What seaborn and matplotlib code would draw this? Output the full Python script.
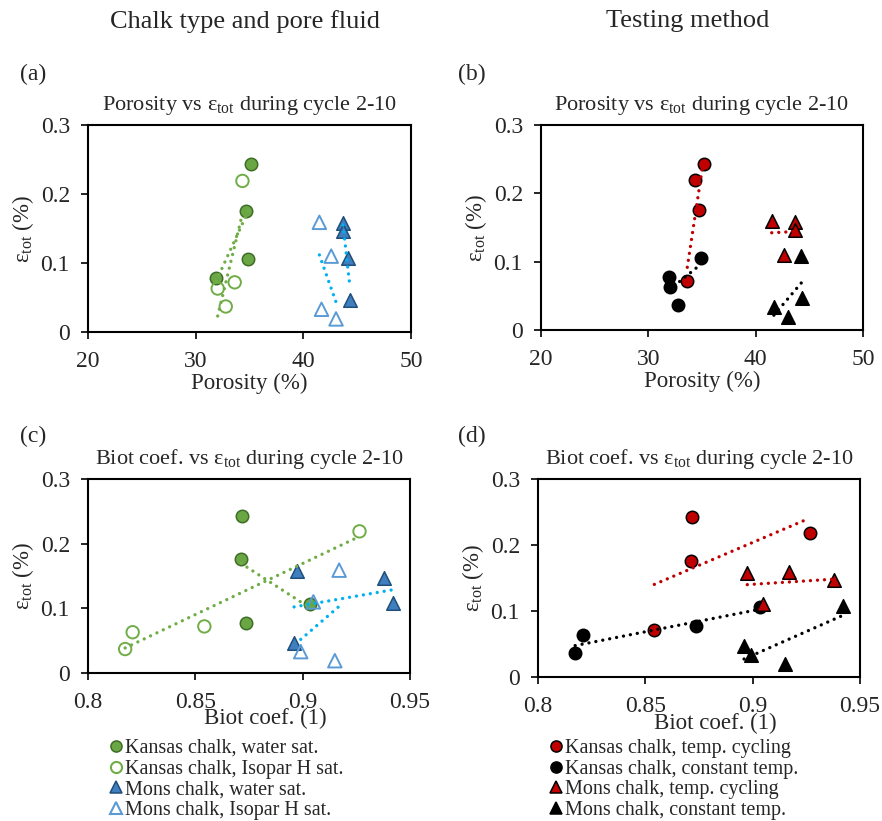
import numpy as np
import pandas as pd
import matplotlib.pyplot as plt
import seaborn as sns
from matplotlib.lines import Line2D
from matplotlib.ticker import FuncFormatter

# Sample data (one entry per test sample)
chalk = ['Kansas'] * 8 + ['Mons'] * 8
porosity = [35.15, 34.35, 34.7, 33.63, 31.9, 32.05, 32.8, 34.9,
            43.7, 41.5, 43.7, 42.6, 44.2, 44.35, 41.7, 43.05]
biot = [0.8717, 0.9265, 0.8713, 0.8542, 0.8737, 0.8208, 0.8173, 0.9035,
        0.8975, 0.917, 0.9378, 0.905, 0.942, 0.896, 0.8991, 0.915]
eps_tot = [0.243, 0.219, 0.176, 0.072, 0.078, 0.063, 0.037, 0.106,
           0.158, 0.159, 0.147, 0.110, 0.108, 0.047, 0.033, 0.019]
fluid = ['water', 'Isopar', 'water', 'Isopar', 'water', 'Isopar', 'Isopar', 'water',
         'water', 'Isopar', 'water', 'Isopar', 'water', 'water', 'Isopar', 'Isopar']
testing = ['cycling'] * 4 + ['constant'] * 4 + ['cycling'] * 4 + ['constant'] * 4

df = pd.DataFrame({'chalk': chalk, 'porosity': porosity, 'biot': biot,
                   'eps': eps_tot, 'fluid': fluid, 'testing': testing})

sns.set_style('ticks')
plt.rcParams['font.family'] = ['Liberation Serif', 'DejaVu Serif']
plt.rcParams['mathtext.fontset'] = 'custom'
plt.rcParams['mathtext.rm'] = 'Liberation Serif'
plt.rcParams['mathtext.it'] = 'Liberation Serif:italic'

# (group key column, chalk, value, label, marker, face, edge, trend colour)
left_series = [
    ('fluid', 'Kansas', 'water', 'Kansas chalk, water sat.', 'o', '#6AA744', '#3E6E26', '#70AD47'),
    ('fluid', 'Kansas', 'Isopar', 'Kansas chalk, Isopar H sat.', 'o', 'none', '#70AD47', '#70AD47'),
    ('fluid', 'Mons', 'water', 'Mons chalk, water sat.', '^', '#3F7FC0', '#1F4E79', '#00B0F0'),
    ('fluid', 'Mons', 'Isopar', 'Mons chalk, Isopar H sat.', '^', 'none', '#5B9BD5', '#00B0F0'),
]
right_series = [
    ('testing', 'Kansas', 'cycling', 'Kansas chalk, temp. cycling', 'o', '#C00000', 'black', '#C00000'),
    ('testing', 'Kansas', 'constant', 'Kansas chalk, constant temp.', 'o', 'black', 'black', 'black'),
    ('testing', 'Mons', 'cycling', 'Mons chalk, temp. cycling', '^', '#C00000', 'black', '#C00000'),
    ('testing', 'Mons', 'constant', 'Mons chalk, constant temp.', '^', 'black', 'black', 'black'),
]

fig = plt.figure(figsize=(8.82, 8.21), dpi=100)
ax_a = fig.add_axes([0.0998, 0.5956, 0.366, 0.2521])
ax_b = fig.add_axes([0.6134, 0.598, 0.365, 0.2497])
ax_c = fig.add_axes([0.0998, 0.1803, 0.365, 0.2363])
ax_d = fig.add_axes([0.61, 0.1754, 0.365, 0.241])

eps_label = 'ε$_{\\mathrm{tot}}$ (%)'
fmt = FuncFormatter(lambda v, p: f'{v:g}')


def draw_panel(ax, series, xcol, xlim, xticks, xlabel, title):
    for key, ch, val, lab, mk, fc, ec, tc in series:
        sub = df[(df['chalk'] == ch) & (df[key] == val)]
        lw = 1.1 if fc != 'none' else 1.4
        sns.scatterplot(data=sub, x=xcol, y='eps', marker=mk, s=80 if mk == 'o' else 95,
                        facecolor=fc, edgecolor=ec, linewidth=lw, ax=ax, zorder=3)
    for key, ch, val, lab, mk, fc, ec, tc in series:
        sub = df[(df['chalk'] == ch) & (df[key] == val)]
        sns.regplot(data=sub, x=xcol, y='eps', scatter=False, ci=None, truncate=True,
                    color=tc, ax=ax,
                    line_kws=dict(ls=(0, (0.01, 2.1)), lw=2.4, dash_capstyle='round', zorder=4))
    ax.set_xlim(*xlim)
    ax.set_ylim(0, 0.3)
    ax.set_xticks(xticks)
    ax.set_yticks([0, 0.1, 0.2, 0.3])
    ax.xaxis.set_major_formatter(fmt)
    ax.yaxis.set_major_formatter(fmt)
    ax.tick_params(direction='out', length=5, width=1.2, labelsize=17, color='black')
    ax.tick_params(axis='x', pad=9)
    ax.tick_params(axis='y', pad=8)
    for sp in ax.spines.values():
        sp.set_visible(True)
        sp.set_color('black')
        sp.set_linewidth(1.5)
    ax.set_xlabel(xlabel, fontsize=16.5, labelpad=0)
    ax.set_ylabel(eps_label, fontsize=16.5, labelpad=3)
    ax.set_title(title, fontsize=16, pad=11)


t_por = 'Porosity vs ε$_{\\mathrm{tot}}$ during cycle 2-10'
t_biot = 'Biot coef. vs ε$_{\\mathrm{tot}}$ during cycle 2-10'
draw_panel(ax_a, left_series, 'porosity', (20, 50), [20, 30, 40, 50], 'Porosity (%)', t_por)
draw_panel(ax_b, right_series, 'porosity', (20, 50), [20, 30, 40, 50], 'Porosity (%)', t_por)
draw_panel(ax_c, left_series, 'biot', (0.8, 0.95), [0.8, 0.85, 0.9, 0.95], 'Biot coef. (1)', t_biot)
draw_panel(ax_d, right_series, 'biot', (0.8, 0.95), [0.8, 0.85, 0.9, 0.95], 'Biot coef. (1)', t_biot)
for ax in (ax_c, ax_d):
    ax.xaxis.set_label_coords(0.55, -0.18)

# column headers and panel letters
fig.text(0.278, 0.974, 'Chalk type and pore fluid', fontsize=19, ha='center', va='center')
fig.text(0.78, 0.974, 'Testing method', fontsize=19, ha='center', va='center')
for lab, x, y in [('(a)', 0.023, 0.909), ('(b)', 0.519, 0.909), ('(c)', 0.023, 0.468), ('(d)', 0.519, 0.468)]:
    fig.text(x, y, lab, fontsize=17, ha='left', va='center')


def handles(series):
    out = []
    for key, ch, val, lab, mk, fc, ec, tc in series:
        out.append(Line2D([], [], ls='none', marker=mk, markersize=8,
                          markerfacecolor=fc, markeredgecolor=ec,
                          markeredgewidth=1.1 if fc != 'none' else 1.5, label=lab))
    return out


for series, x in [(left_series, 0.124), (right_series, 0.622)]:
    fig.legend(handles=handles(series), loc='upper left', bbox_to_anchor=(x, 0.1),
               frameon=False, fontsize=14.5, handlelength=0.7, handletextpad=0.1,
               labelspacing=0.08, borderpad=0, borderaxespad=0)

fig.savefig('out.png', dpi=100)
